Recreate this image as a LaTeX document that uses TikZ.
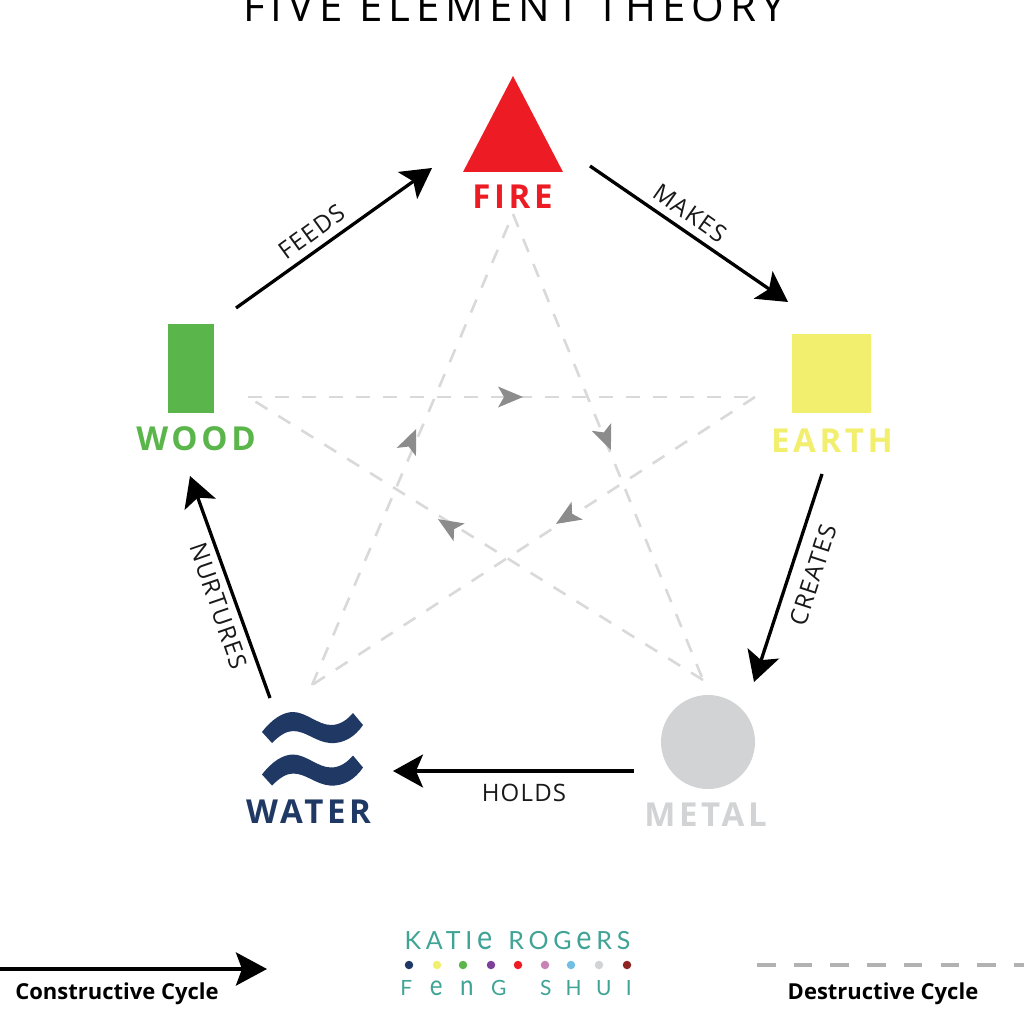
\documentclass[tikz,border=0pt]{standalone}
\usepackage{fontspec}
\setmainfont{Open Sans}
\newfontfamily\titlefont[LetterSpace=14]{Open Sans}
\newfontfamily\elemfont[LetterSpace=11,BoldFont={Open Sans Bold}]{Open Sans}
\newfontfamily\labfont[LetterSpace=5]{Open Sans}
\newfontfamily\logofont[LetterSpace=19]{Lato}
\newfontfamily\logobfont[LetterSpace=68,WordSpace=1]{Lato}
\newcommand{\tallglyph}[1]{\scalebox{1.15}[1.35]{#1}}
\usetikzlibrary{arrows.meta}
\definecolor{firered}{HTML}{ED1C24}
\definecolor{woodgreen}{HTML}{5AB54A}
\definecolor{earthyellow}{HTML}{F2EE6E}
\definecolor{metalgrey}{HTML}{D1D3D4}
\definecolor{waterblue}{HTML}{1F3864}
\definecolor{logoteal}{HTML}{3FA396}
\definecolor{dpurple}{HTML}{7D3F98}
\definecolor{dpink}{HTML}{C783B5}
\definecolor{dblue}{HTML}{72BFE3}
\definecolor{dred}{HTML}{8F2522}
\tikzset{
  cycle/.style={line width=3.3pt,black,-{Stealth[length=30pt,width=33pt,inset=7pt]}},
  destr/.style={line width=2.6pt,black!15,dash pattern=on 14pt off 13pt},
  tip/.style={fill=black!45,draw=none},
  elem/.style={font=\fontsize{33}{33}\selectfont\elemfont\bfseries,inner sep=0pt},
  lab/.style={font=\fontsize{24}{24}\selectfont\labfont,inner sep=0pt,text=black!90},
  leg/.style={font=\fontsize{22}{22}\selectfont\bfseries,inner sep=0pt},
  dot/.style={circle,inner sep=0pt,minimum size=8.5pt,draw=none}
}
\begin{document}
\begin{tikzpicture}[x=1pt,y=-1pt]
\useasboundingbox (0,0) rectangle (1024,1024);
\clip (0,0) rectangle (1024,1024);
\node[font=\fontsize{42}{42}\selectfont\titlefont,inner sep=0pt] (title) at (514.5,6) {FIVE ELEMENT THEORY};

% shapes
\fill[firered] (513,76) -- (563,172) -- (463,172) -- cycle;
\node[elem,text=firered] (fire) at (512.5,197) {FIRE};
\fill[woodgreen] (168,324) rectangle (214,413);
\node[elem,text=woodgreen] (wood) at (196,439) {WOOD};
\fill[earthyellow] (792,334) rectangle (871,413);
\node[elem,text=earthyellow] (earth) at (832,441) {EARTH};
\fill[metalgrey] (708,742) circle (47);
\node[elem,text=metalgrey] (metal) at (705.5,815) {METAL};
\foreach \d in {0,42.5}{
  \fill[waterblue,yshift=-\d pt] (262,732) .. controls (272,719) and (283,712) .. (293,712)
    .. controls (306,712) and (318,725) .. (331,725)
    .. controls (340,725) and (347,720) .. (353,713) -- (363,725)
    .. controls (355,737) and (343,744) .. (330,743)
    .. controls (316,742) and (306,731) .. (293,731)
    .. controls (286,731) and (279,736) .. (272,743) -- cycle;
}
\node[elem,text=waterblue] (water) at (308.5,812) {WATER};

% constructive cycle
\coordinate (w1) at (236,308); \coordinate (f1) at (432,168);
\coordinate (f2) at (590,166); \coordinate (e1) at (788,302);
\coordinate (e2) at (822,474); \coordinate (m1) at (754,682);
\coordinate (m2) at (634,771); \coordinate (a1) at (393,771);
\coordinate (a2) at (270,698); \coordinate (w2) at (190,476);
\draw[cycle] (w1) -- (f1);
\draw[cycle] (f2) -- (e1);
\draw[cycle] (e2) -- (m1);
\draw[cycle] (m2) -- (a1);
\draw[cycle] (a2) -- (w2);
\node[lab,rotate=36] (feeds) at (312,232) {FEEDS};
\node[lab,rotate=-35] (makes) at (690,213) {MAKES};
\node[lab,rotate=72] (creates) at (813,575) {CREATES};
\node[lab] (holds) at (524,793) {HOLDS};
\node[lab,rotate=-71] (nurtures) at (219,606) {NURTURES};

% destructive cycle
\coordinate (df) at (513,214); \coordinate (dm) at (703,680);
\coordinate (dw) at (248,397); \coordinate (de) at (755,397);
\coordinate (da) at (312,685); \coordinate (da2) at (312,685);
\draw[destr] (dw) -- (de);
\draw[destr] (df) -- (dm);
\draw[destr] (de) -- (da);
\draw[destr] (dm) -- (dw);
\draw[destr] (da2) -- (df);
\foreach \x/\y/\r in {510/397/0, 606/438/-68, 567/517/-148, 449/526/148, 411/441/67}{
  \fill[tip,shift={(\x,\y)},rotate=\r] (13,0) -- (-12,-10.5) -- (-6,0) -- (-12,10.5) -- cycle;
}

% legend
\coordinate (lc1) at (0,969); \coordinate (lc2) at (267,969);
\draw[line width=4pt,-{Stealth[length=31pt,width=33pt,inset=6pt]}] (lc1) -- (lc2);
\node[leg] (lcon) at (117,994) {Constructive Cycle};
\coordinate (ld1) at (757,965); \coordinate (ld2) at (1024,965);
\draw[line width=4pt,black!30,dash pattern=on 18.5pt off 18.2pt] (ld1) -- (ld2);
\node[leg] (ldes) at (883,994) {Destructive Cycle};

% logo
\node[font=\fontsize{25}{25}\selectfont\logofont,text=logoteal,inner sep=0pt,anchor=base] (k) at (517.5,949)
  {KATI\kern4.8pt\relax\tallglyph{e}\kern4.8pt\relax{} ROG\kern4.8pt\relax\tallglyph{e}\kern4.8pt\relax{}RS};
\foreach \x/\c in {409/waterblue,437/earthyellow,463/woodgreen,491/dpurple,518/firered,545/dpink,571/dblue,599/metalgrey,627/dred}{
  \node[dot,fill=\c] (d\x) at (\x,965) {};
}
\node[font=\fontsize{21}{21}\selectfont\logobfont,text=logoteal,inner sep=0pt,anchor=base] (fs) at (516,995)
  {F\kern17.5pt\relax\tallglyph{e}\kern17.5pt\relax\tallglyph{n}\kern17.5pt\relax{}G\kern14pt\relax{} SHUI};
\end{tikzpicture}
\end{document}
